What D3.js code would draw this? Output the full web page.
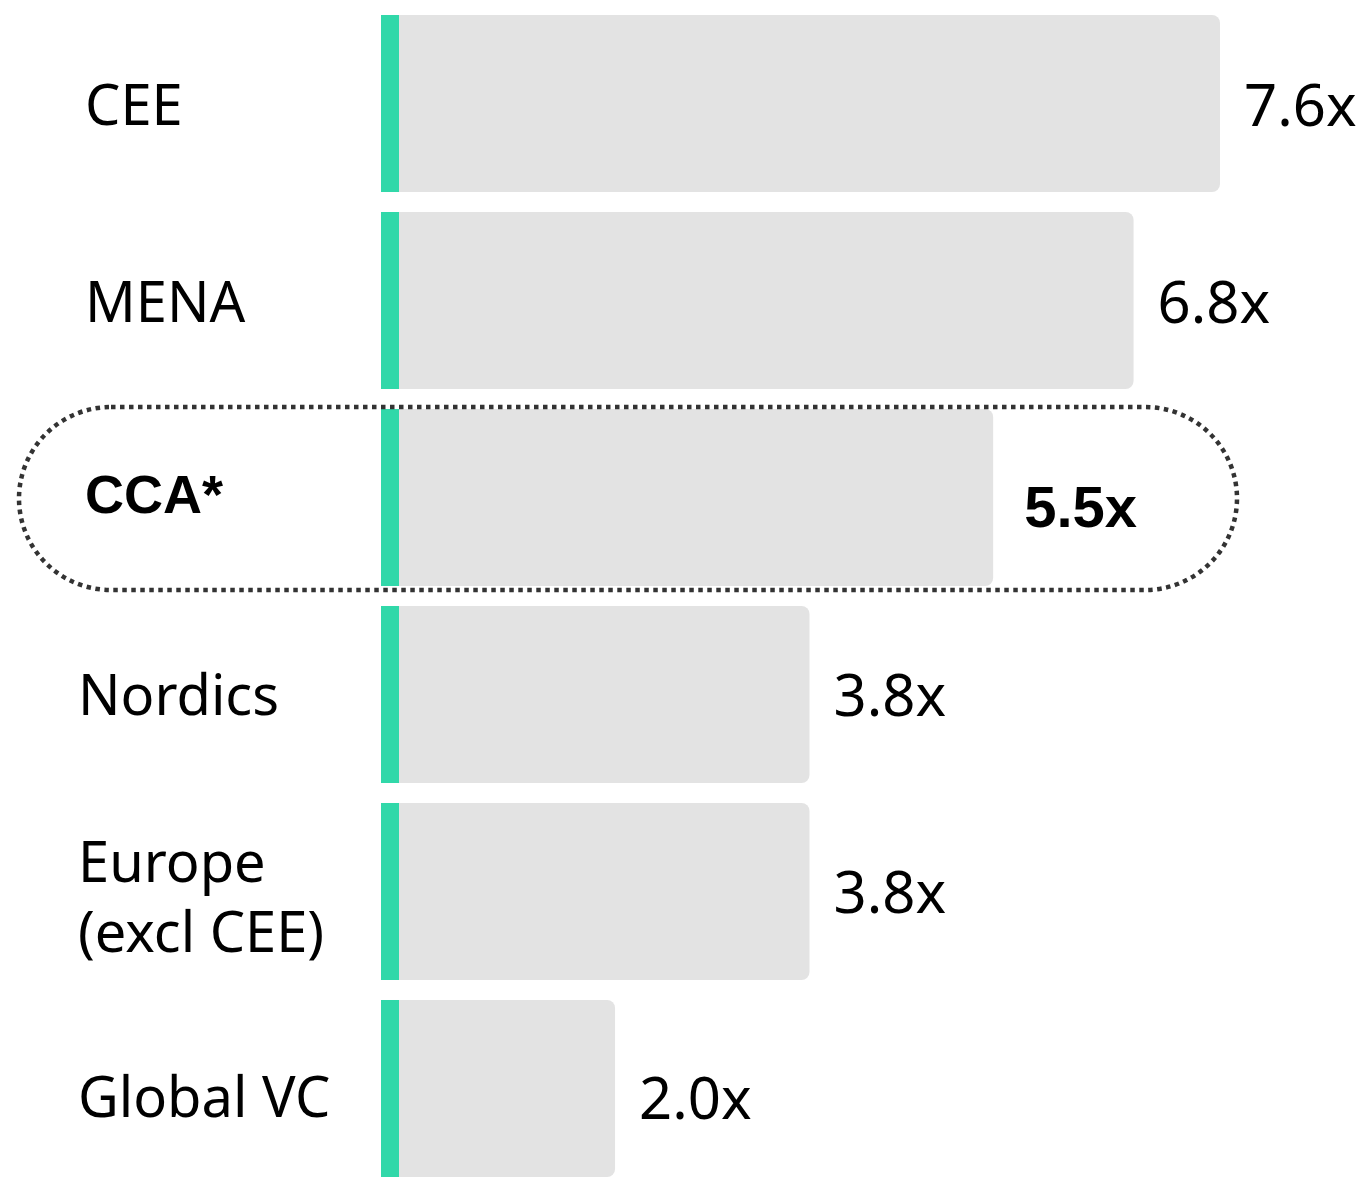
<!DOCTYPE html>
<html>
<head>
<meta charset="utf-8">
<script src="https://cdn.jsdelivr.net/npm/d3@7"></script>
<style>
  body { margin: 0; background: #fff; }
  svg { display: block; }
</style>
</head>
<body>
<div id="chart"></div>
<script>
var width = 1361, height = 1177;

// Data
var regions = ["CEE", "MENA", "CCA*", "Nordics", "Europe (excl CEE)", "Global VC"];
var labelLines = [["CEE"], ["MENA"], ["CCA*"], ["Nordics"], ["Europe", "(excl CEE)"], ["Global VC"]];
var multiples = [7.6, 6.8, 5.5, 3.8, 3.8, 2.0];
var valueLabels = ["7.6x", "6.8x", "5.5x", "3.8x", "3.8x", "2.0x"];
var highlight = "CCA*";

var green = "#31d8a9", grey = "#e3e3e3";

var svg = d3.select("#chart").append("svg")
    .attr("width", width)
    .attr("height", height);

var x = d3.scaleLinear()
    .domain([0, 7.6])
    .range([399, 1220]);

var y = d3.scaleBand()
    .domain(regions)
    .range([15, 1177])
    .paddingInner(0.1015)
    .paddingOuter(0);

var rows = svg.selectAll("g.row")
    .data(regions)
    .enter().append("g")
    .attr("class", "row");

// grey bars (rounded right end), left end hidden under the green strip
rows.append("rect")
    .attr("x", x(0) - 10)
    .attr("y", function(d) { return y(d); })
    .attr("width", function(d, i) { return x(multiples[i]) - x(0) + 10; })
    .attr("height", y.bandwidth())
    .attr("rx", 8)
    .attr("fill", grey);

rows.append("rect")
    .attr("x", x(0) - 18)
    .attr("y", function(d) { return y(d); })
    .attr("width", 18)
    .attr("height", y.bandwidth())
    .attr("fill", green);

// category labels
rows.each(function(d, i) {
  var g = d3.select(this);
  var lines = labelLines[i];
  var bold = d === highlight;
  var cy = y(d) + y.bandwidth() / 2;
  var lx = (i >= 3) ? 78 : 85;
  var t = g.append("text")
      .attr("x", lx)
      .attr("font-family", bold ? "'Liberation Sans', Arial, sans-serif" : "'Noto Sans', sans-serif")
      .attr("font-weight", bold ? 700 : 400)
      .attr("font-size", bold ? 54 : 56)
      .attr("fill", "#000");
  if (lines.length === 1) {
    var dy = bold ? 15 : (i === regions.length - 1 ? 29 : 21);
    t.attr("y", cy + dy).text(lines[0]);
  } else {
    t.selectAll("tspan").data(lines).enter().append("tspan")
      .attr("x", lx)
      .attr("y", function(l, j) { return cy - 9 + j * 70; })
      .text(function(l) { return l; });
  }
});

// value labels
rows.append("text")
    .attr("x", function(d, i) { return x(multiples[i]) + (d === highlight ? 31 : 24); })
    .attr("y", function(d, i) {
      var dy = d === highlight ? 29 : (i === regions.length - 1 ? 31 : 22);
      return y(d) + y.bandwidth() / 2 + dy;
    })
    .attr("font-family", function(d) { return d === highlight ? "'Liberation Sans', Arial, sans-serif" : "'Noto Sans', sans-serif"; })
    .attr("font-weight", function(d) { return d === highlight ? 700 : 400; })
    .attr("font-size", 58)
    .attr("fill", "#000")
    .text(function(d, i) { return valueLabels[i]; });

// dotted pill around the highlighted row
var hy = y(highlight);
svg.append("rect")
    .attr("x", 19)
    .attr("y", hy - 2)
    .attr("width", 1218)
    .attr("height", y.bandwidth() + 6)
    .attr("rx", 92)
    .attr("ry", 92)
    .attr("fill", "none")
    .attr("stroke", "#333")
    .attr("stroke-width", 4.5)
    .attr("stroke-dasharray", "4.5 4.5");
</script>
</body>
</html>
